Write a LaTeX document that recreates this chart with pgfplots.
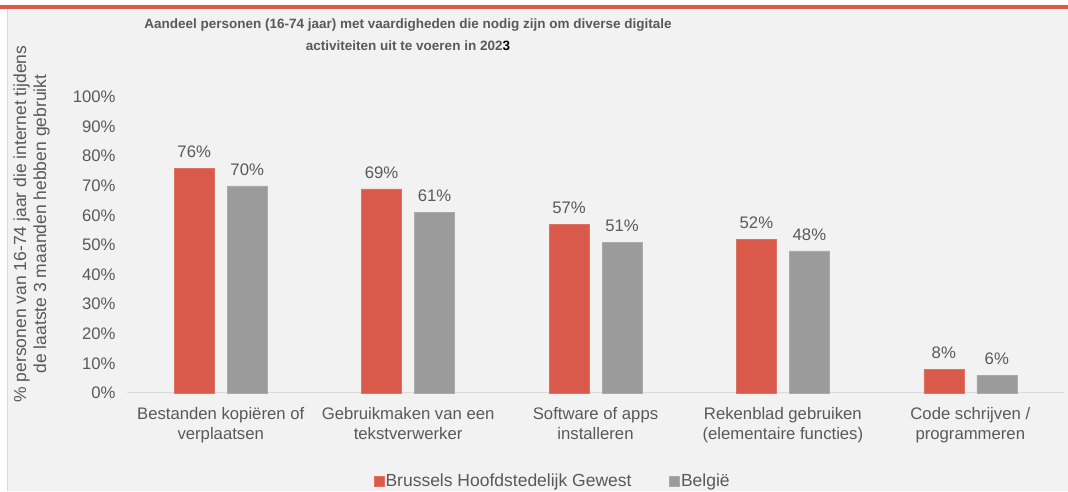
\documentclass[border=0pt]{standalone}
\usepackage{pgfplots}
\pgfplotsset{compat=1.18}
\usepackage{fontspec}
\setmainfont{Liberation Sans}
\definecolor{bg}{HTML}{F2F2F2}
\definecolor{bred}{HTML}{D9594A}
\definecolor{bgray}{HTML}{9B9B9B}
\definecolor{txt}{HTML}{595959}
\definecolor{axl}{HTML}{D9D9D9}
\begin{document}
\begin{tikzpicture}[x=1pt,y=1pt]
\fill[white] (0,0) rectangle (1068,492);
\fill[bg] (8,1) rectangle (1068,484);
\draw[axl, line width=1pt] (7.5,1) -- (7.5,484);
\fill[bred] (0,483) rectangle (1068,486.5);
\node[font=\fontsize{13.5}{22.5}\selectfont\bfseries, text=txt, align=center] at (408,457.5)
  {Aandeel personen (16-74 jaar) met vaardigheden die nodig zijn om diverse digitale\\activiteiten uit te voeren in 202\textcolor{black}{3}};
\node[rotate=90, font=\fontsize{17.5}{20}\selectfont, text=txt, align=center] at (31.7,268)
  {\% personen van 16-74 jaar die internet tijdens\\de laatste 3 maanden hebben gebruikt};
\begin{axis}[
  at={(127pt,99pt)}, anchor=south west,
  scale only axis, width=937pt, height=296pt,
  ybar=13pt, bar width=40pt,
  xmin=-0.5, xmax=4.5, ymin=0, ymax=100,
  xtick={0,1,2,3,4},
  xticklabels={{Bestanden kopiëren of\\verplaatsen},{Gebruikmaken van een\\tekstverwerker},{Software of apps\\installeren},{Rekenblad gebruiken\\(elementaire functies)},{Code schrijven /\\programmeren}},
  xticklabel style={align=center, font=\fontsize{16.7}{20}\selectfont, text=txt, yshift=-11pt},
  ytick={0,10,...,100},
  yticklabel={\pgfmathprintnumber{\tick}\%},
  yticklabel style={font=\fontsize{16.7}{20}\selectfont, text=txt, xshift=-8pt},
  /pgf/number format/assume math mode=true,
  major tick length=0pt,
  axis line style={draw=none},
  clip=false,
  nodes near coords={\pgfmathprintnumber{\pgfplotspointmeta}\%},
  every node near coord/.append style={font=\fontsize{16.7}{20}\selectfont, text=txt, yshift=7pt},
  legend style={at={(rel axis cs:0.454,-0.297)}, anchor=center, draw=none, fill=none,
    font=\fontsize{17.5}{20}\selectfont, text=txt,
    nodes={inner xsep=1.5pt},
    /tikz/every even column/.append style={column sep=36pt}},
  legend columns=2,
  legend image code/.code={\fill[#1] (0pt,-5pt) rectangle (10pt,5pt);},
]
\draw[axl, line width=1pt] (rel axis cs:0,0) -- (rel axis cs:1,0);
\addplot[fill=bred, draw=bred!85!white] coordinates {(0,76) (1,69) (2,57) (3,52) (4,8)};
\addplot[fill=bgray, draw=bgray!85!white] coordinates {(0,70) (1,61) (2,51) (3,48) (4,6)};
\legend{Brussels Hoofdstedelijk Gewest, België}
\end{axis}
\end{tikzpicture}
\end{document}
